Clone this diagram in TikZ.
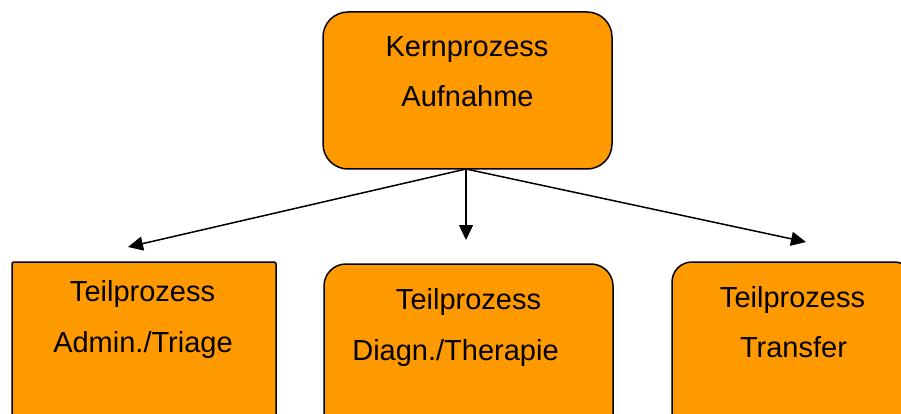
\documentclass[tikz,border=0pt]{standalone}
\usepackage{fontspec}
\setmainfont{Liberation Sans}
\usetikzlibrary{arrows.meta}
\definecolor{procorange}{HTML}{FF9900}
\tikzset{
  procbox/.style={draw=black, line width=1.5pt, fill=procorange, inner sep=0pt},
  lbl/.style={anchor=base, inner sep=0pt, font=\fontsize{29}{34}\selectfont},
  link/.style={line width=1.5pt, -{Triangle[length=15pt,width=14pt]}}
}
\begin{document}
\begin{tikzpicture}[x=1pt,y=-1pt]
\useasboundingbox (0,0) rectangle (901,414);
\clip (0,0) rectangle (901,414);
% core process
\node[procbox, rounded corners=25pt, minimum width=289pt, minimum height=157pt] (core) at (467.5,90.5) {};
\node[lbl] (coreA) at (467,57) {Kernprozess};
\node[lbl] (coreB) at (467.5,107) {Aufnahme};
% sub-processes
\node[procbox, rounded corners=2pt, minimum width=264pt, minimum height=178pt] (admin) at (144,351) {};
\node[lbl] (adminA) at (142.5,301) {Teilprozess};
\node[lbl] (adminB) at (143,352) {Admin./Triage};
\node[procbox, rounded corners=22pt, minimum width=289pt, minimum height=176pt] (diag) at (468.5,352) {};
\node[lbl] (diagA) at (468.5,309) {Teilprozess};
\node[lbl] (diagB) at (455.5,360) {Diagn./Therapie};
\node[procbox, rounded corners=20pt, minimum width=242pt, minimum height=178pt] (trans) at (793,351) {};
\node[lbl] (transA) at (792.5,307) {Teilprozess};
\node[lbl] (transB) at (793.5,357) {Transfer};
% arrow ends
\coordinate (src) at (466,169);
\coordinate (tipA) at (128,247);
\coordinate (tipD) at (466,240);
\coordinate (tipT) at (806,242);
\draw[link] (src) -- (tipA);
\draw[link] (src) -- (tipD);
\draw[link] (src) -- (tipT);
\end{tikzpicture}
\end{document}
